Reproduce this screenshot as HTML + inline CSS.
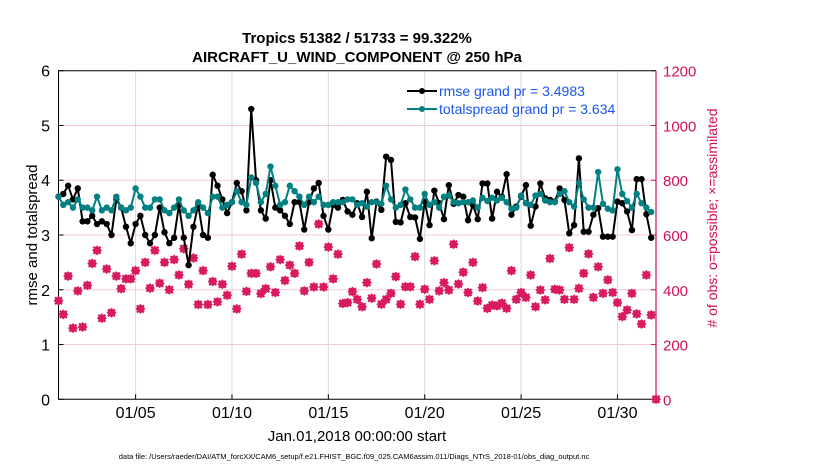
<!DOCTYPE html>
<html><head><meta charset="utf-8"><style>
body{margin:0;background:#fff;}
svg{display:block;font-family:"Liberation Sans",sans-serif;}
</style></head><body>
<svg id="chart" width="830" height="470">
<text x="357" y="43" text-anchor="middle" font-size="15" font-weight="bold">Tropics 51382 / 51733 = 99.322%</text>
<text x="357" y="62" text-anchor="middle" font-size="15" font-weight="bold">AIRCRAFT_U_WIND_COMPONENT @ 250 hPa</text>
<g id="grid"></g>
<g id="axes"></g>
<g id="marks"></g>
<text transform="translate(37,235) rotate(-90)" text-anchor="middle" font-size="15">rmse and totalspread</text>
<text transform="translate(717,218) rotate(-90)" text-anchor="middle" font-size="14" fill="#d0105a"># of obs: o=possible; ×=assimilated</text>
<text x="357" y="441" text-anchor="middle" font-size="15">Jan.01,2018 00:00:00 start</text>
<text x="354" y="459" text-anchor="middle" font-size="7.5">data file: /Users/raeder/DAI/ATM_forcXX/CAM6_setup/f.e21.FHIST_BGC.f09_025.CAM6assim.011/Diags_NTrS_2018-01/obs_diag_output.nc</text>
<g>
<line x1="407" y1="91" x2="437" y2="91" stroke="#000" stroke-width="2"/>
<circle cx="422" cy="91" r="3" fill="#000"/>
<text x="439" y="96" font-size="14" fill="#1a55f0">rmse grand pr = 3.4983</text>
<line x1="407" y1="109" x2="437" y2="109" stroke="#008080" stroke-width="2"/>
<circle cx="422" cy="109" r="3" fill="#008080"/>
<text x="439" y="114" font-size="14" fill="#1a55f0">totalspread grand pr = 3.634</text>
</g>
</svg>
<script>
const xTickDays=[5,10,15,20,25,30];
const xTickLabels=["01/05","01/10","01/15","01/20","01/25","01/30"];
const leftTicks=[0,1,2,3,4,5,6];
const rightTicks=[0,200,400,600,800,1000,1200];
const rmse=[3.7,3.75,3.9,3.65,3.85,3.25,3.25,3.35,3.2,3.25,3.2,3.0,3.65,3.5,3.15,2.85,3.2,3.35,3.0,2.85,3.0,3.5,3.05,2.85,2.95,3.55,2.95,2.45,3.15,3.55,3.0,2.95,4.1,3.9,3.65,3.4,3.6,3.95,3.8,3.45,5.3,4.0,3.45,3.3,4.0,3.5,3.45,3.35,3.2,3.6,3.6,3.1,3.6,3.85,3.95,3.35,3.1,3.55,3.5,
3.64,3.43,3.37,3.58,3.33,3.79,2.94,3.61,3.46,4.43,4.37,3.24,3.23,3.58,3.33,3.32,2.93,3.61,3.18,3.81,3.58,3.29,3.91,3.57,3.73,3.70,3.27,3.55,3.29,3.94,3.94,3.30,3.79,3.70,4.11,3.37,3.52,3.70,3.91,3.17,3.52,3.94,3.67,3.64,3.61,3.85,3.64,3.03,3.18,4.40,3.06,3.06,3.37,3.49,2.97,2.97,2.97,3.61,3.58,3.43,3.09,4.02,4.02,3.38,2.95];
const spread=[3.7,3.55,3.6,3.5,3.65,3.5,3.5,3.45,3.7,3.45,3.5,3.45,3.7,3.5,3.45,3.5,3.85,3.7,3.5,3.5,3.65,3.65,3.45,3.4,3.5,3.65,3.45,3.35,3.45,3.6,3.5,3.4,3.7,3.7,3.5,3.55,3.6,3.8,3.6,3.55,4.05,3.95,3.6,3.75,4.25,3.9,3.55,3.6,3.9,3.8,3.7,3.55,3.7,3.6,3.7,3.55,3.55,3.6,3.6,
3.6,3.65,3.65,3.55,3.58,3.52,3.6,3.6,3.57,3.9,3.65,3.5,3.55,3.83,3.65,3.5,3.5,3.75,3.55,3.6,3.5,3.7,3.72,3.6,3.58,3.6,3.6,3.63,3.5,3.68,3.62,3.68,3.63,3.68,3.6,3.48,3.5,3.72,3.58,3.55,3.72,3.75,3.63,3.6,3.6,3.75,3.8,3.6,3.52,3.95,3.65,3.5,3.5,4.15,3.57,3.48,3.45,4.2,3.75,3.62,3.5,3.75,3.58,3.5,3.42];
const nobs=[360,310,450,260,396,264,416,496,544,296,476,316,450,404,440,440,470,330,500,406,544,424,500,400,510,454,550,420,516,346,470,346,430,356,420,380,486,330,530,394,460,460,386,404,484,390,510,434,490,460,560,396,500,410,640,410,556,440,530,
350,353,393,365,338,426,369,494,347,365,387,448,347,411,411,521,347,402,365,506,396,426,399,566,421,464,390,500,359,408,332,344,341,351,332,470,365,390,372,454,338,399,363,514,402,399,365,554,365,405,460,531,372,484,387,436,390,353,302,326,387,312,275,454,308,0];
const X0=58.5,X1=656,Y0=399.3,Y1=70.7,D0=1,D1=32;
function xs(d){return X0+(d-D0)/(D1-D0)*(X1-X0);}
function yl(v){return Y0-v/6*(Y0-Y1);}
function yr(v){return Y0-v/1200*(Y0-Y1);}
function dayOf(i){return 1+i*0.25;}
const NS="http://www.w3.org/2000/svg";
function mk(t,a,p){const e=document.createElementNS(NS,t);for(const k in a)e.setAttribute(k,a[k]);p.appendChild(e);return e;}
const grid=document.getElementById('grid'),axes=document.getElementById('axes'),marks=document.getElementById('marks');
leftTicks.forEach(v=>{
 if(v>0&&v<6){const g=mk('line',{x1:X0,x2:X1,y1:yl(v),y2:yl(v),stroke:'#f3c8d8','stroke-width':1},grid);
 
 }
 const t=mk('text',{x:50,y:yl(v)+6,'text-anchor':'end','font-size':16},axes);t.textContent=v;
 
 
 mk('line',{x1:X0,x2:X0+5,y1:yl(v),y2:yl(v),stroke:'#000'},axes);
});
rightTicks.forEach(v=>{
 const t=mk('text',{x:663,y:yr(v)+6,'font-size':15,fill:'#d0105a'},axes);t.textContent=v;
 
 
 mk('line',{x1:X1-5,x2:X1,y1:yr(v),y2:yr(v),stroke:'#d0105a'},axes);
});
xTickDays.forEach((d,i)=>{
 const g=mk('line',{x1:xs(d),x2:xs(d),y1:Y1,y2:Y0,stroke:'#d9d9d9'},grid);
 
 
 mk('line',{x1:xs(d),x2:xs(d),y1:Y0,y2:Y0-5,stroke:'#000'},axes);
 const t=mk('text',{x:xs(d),y:418,'text-anchor':'middle','font-size':16},axes);t.textContent=xTickLabels[i];
 
 
});
mk('path',{d:`M${X1},${Y1}H${X0}V${Y0}H${X1}`,fill:'none',stroke:'#000','stroke-width':1},axes);
mk('line',{x1:X1,x2:X1,y1:Y1,y2:Y0,stroke:'#d0105a','stroke-width':1.2},axes);
nobs.forEach((v,i)=>{
 const x=xs(dayOf(i)),y=yr(v);
 const g=mk('g',{},marks);
 
 
 mk('path',{d:`M${x},${y-5}L${x+5},${y}L${x},${y+5}L${x-5},${y}Z`,fill:'#d81b60'},g);
 mk('path',{d:`M${x-3.5},${y-3.5}L${x+3.5},${y+3.5}M${x+3.5},${y-3.5}L${x-3.5},${y+3.5}`,stroke:'#d81b60','stroke-width':2.2},g);
});
function series(arr,col,name){
 const p=mk('polyline',{points:arr.map((v,i)=>xs(dayOf(i))+','+yl(v)).join(' '),fill:'none',stroke:col,'stroke-width':2},marks);
 
 
 arr.forEach((v,i)=>{const c=mk('circle',{cx:xs(dayOf(i)),cy:yl(v),r:3.2,fill:col},marks);
 
 });
}
series(rmse,'#000','rmse');
series(spread,'#008080','totalspread');
</script>
</body></html>
